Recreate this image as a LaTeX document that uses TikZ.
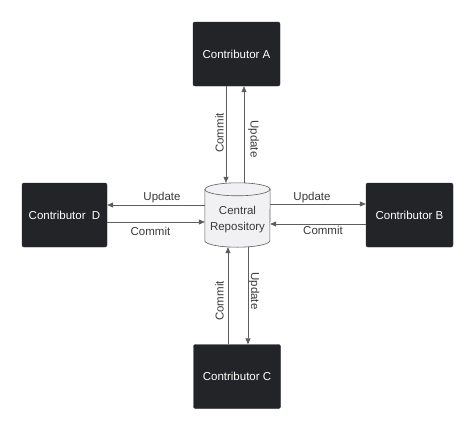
\documentclass[tikz,border=0pt]{standalone}
\usepackage{fontspec}
\setmainfont{Liberation Sans}
\usetikzlibrary{arrows.meta,calc}
\definecolor{boxfill}{HTML}{232427}
\definecolor{linegray}{HTML}{5E5E5E}
\definecolor{labelgray}{HTML}{3A3A3A}
\definecolor{cylfill}{HTML}{F1F1F3}
\begin{document}
\begin{tikzpicture}[x=1pt,y=-1pt,
  contrib/.style={draw=boxfill,fill=boxfill,rounded corners=2pt,minimum width=87pt,minimum height=64pt,inner sep=0pt,text=white,font=\fontsize{11.5}{13}\selectfont},
  repo/.style={minimum width=65pt,minimum height=64pt,inner sep=0pt,align=center,text=labelgray,font=\fontsize{11.5}{14}\selectfont},
  flow/.style={draw=linegray,line width=0.7pt,-{Triangle[length=6pt,width=5pt]}},
  lbl/.style={text=labelgray,font=\fontsize{11.5}{13}\selectfont,inner sep=0pt}]
\useasboundingbox (0,0) rectangle (474,431);
\fill[white] (0,0) rectangle (474,431);
% nodes
\node[contrib] (A) at (236.5,54) {Contributor A};
\node[contrib] (B) at (409.5,215) {Contributor B};
\node[contrib] (C) at (237,376.5) {Contributor C};
\node[contrib,minimum width=85pt] (D) at (64.5,215) {Contributor\ \ D};
\node[repo] (R) at (237.5,215) {};
% cylinder
\draw[linegray,line width=0.6pt,fill=cylfill]
  ($(R.north west)+(0,6.5)$) -- ($(R.south west)+(0,-6.5)$)
  arc[start angle=180,end angle=360,x radius=32.5,y radius=-6.5]
  -- ($(R.north east)+(0,6.5)$)
  arc[start angle=0,end angle=180,x radius=32.5,y radius=-6.5] -- cycle;
\draw[linegray,line width=0.6pt]
  ($(R.north west)+(0,6.5)$) arc[start angle=180,end angle=360,x radius=32.5,y radius=-6.5];
\node[repo,font=\fontsize{11.5}{16}\selectfont] at ($(R.center)+(0,5)$) {Central\\Repository};
% A
\draw[flow] ([xshift=-10.5pt]A.south) -- ([xshift=-10.5pt]A.south |- R.north);
\draw[flow] ([xshift=7.5pt]A.south |- R.north) -- ([xshift=7.5pt]A.south);
\node[lbl,rotate=90] at (219.5,133) {Commit};
\node[lbl,rotate=-90] at (253.5,139) {Update};
% C
\draw[flow] ([xshift=-9pt]C.north) -- ([xshift=-9pt]C.north |- R.south);
\draw[flow] ([xshift=11pt]C.north |- R.south) -- ([xshift=11pt]C.north);
\node[lbl,rotate=90] at (219.5,301) {Commit};
\node[lbl,rotate=-90] at (254,291) {Update};
% B
\draw[flow] ([yshift=11pt]B.west -| R.east) -- ([yshift=11pt]B.west);
\draw[flow] ([yshift=-9pt]B.west) -- ([yshift=-9pt]B.west -| R.east);
\node[lbl] at (312,198) {Update};
\node[lbl] at (323,230.5) {Commit};
% D
\draw[flow] ([yshift=10pt]D.east -| R.west) -- ([yshift=10pt]D.east);
\draw[flow] ([yshift=-7pt]D.east) -- ([yshift=-7pt]D.east -| R.west);
\node[lbl] at (162,198) {Update};
\node[lbl] at (150.5,231) {Commit};
\end{tikzpicture}
\end{document}
